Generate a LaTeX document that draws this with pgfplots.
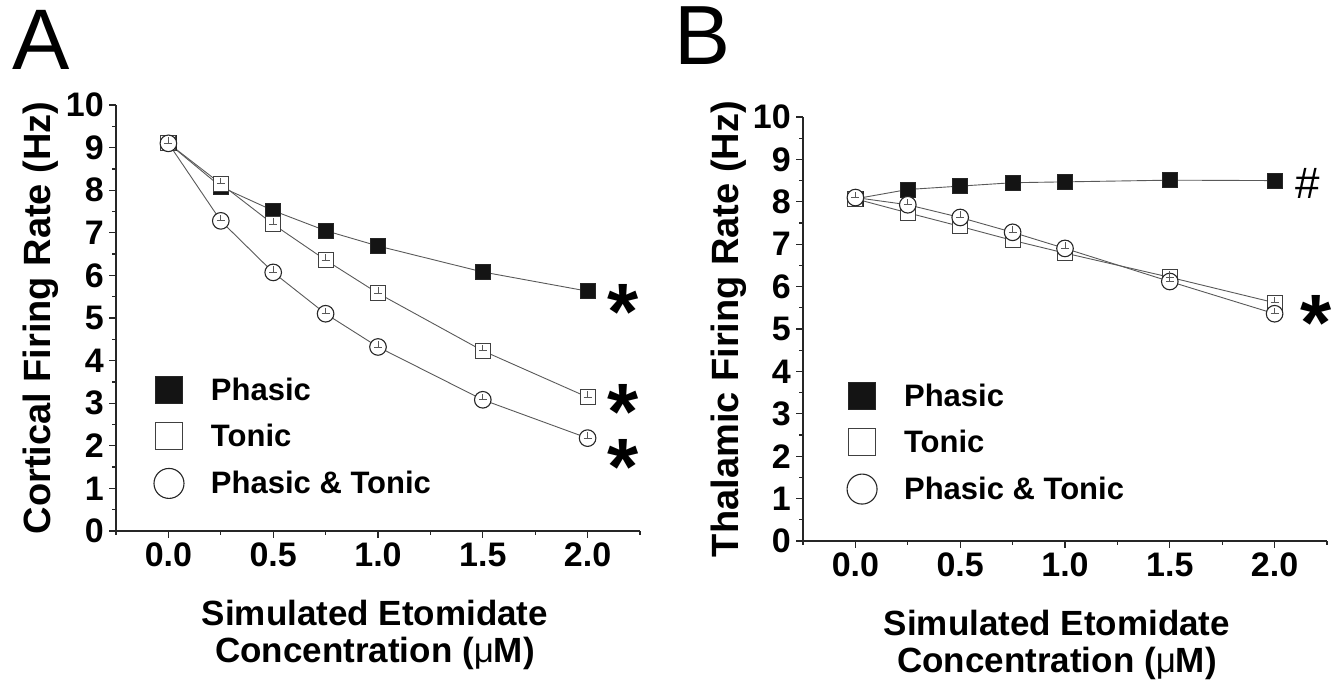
\documentclass[border=0pt]{standalone}
\usepackage{fontspec}
\setmainfont{Liberation Sans}
\usepackage{pgfplots}
\pgfplotsset{compat=1.18}

\definecolor{lgray}{gray}{0.35}
\definecolor{mgray}{gray}{0.25}

% error-bar glyph: cap at the data point, bar going up (as drawn in the reference)
\pgfdeclareplotmark{perpup}{%
  \pgfpathmoveto{\pgfqpoint{-4pt}{0pt}}\pgfpathlineto{\pgfqpoint{4pt}{0pt}}%
  \pgfpathmoveto{\pgfqpoint{0pt}{0pt}}\pgfpathlineto{\pgfqpoint{0pt}{6pt}}%
  \pgfusepathqstroke}

\pgfplotsset{
  myaxis/.style={
    scale only axis, width=524pt,
    xmin=-0.25, xmax=2.25, ymin=0, ymax=10,
    axis lines=left,
    axis line style={-, line width=1.4pt, black!85},
    xtick={0,0.5,1,1.5,2},
    minor xtick={-0.25,0.25,0.75,1.25,1.75,2.25},
    ytick={0,1,2,3,4,5,6,7,8,9,10},
    minor ytick={0.5,1.5,2.5,3.5,4.5,5.5,6.5,7.5,8.5,9.5},
    tick align=outside,
    major tick length=7pt, minor tick length=4pt,
    tick style={line width=1.3pt, black!85},
    tick label style={font=\fontsize{34}{34}\selectfont\bfseries, inner sep=0pt},
    /pgf/number format/assume math mode=true,
    xticklabel style={/pgf/number format/fixed, /pgf/number format/fixed zerofill, /pgf/number format/precision=1, yshift=-5pt},
    yticklabel style={xshift=-5pt},
    clip=false,
    legend style={draw=none, fill=none, row sep=19pt, nodes={inner sep=0pt},
      font=\fontsize{31}{31}\selectfont\bfseries},
    legend cell align=left,
    legend image code/.code={\draw[##1] plot coordinates {(0pt,0pt)}; \path[draw=none, fill=none] (-13.5pt,0pt) -- (42pt,0pt);},
  },
  lineP/.style={line width=0.9pt, color=lgray, mark=square*, mark size=7.5pt, mark options={fill=black!92, draw=black!85, line width=0.8pt}},
  lineT/.style={line width=0.9pt, color=lgray, mark=square*, mark size=7.5pt, mark options={fill=white, draw=mgray, line width=1.1pt}},
  linePT/.style={line width=0.9pt, color=lgray, mark=*, mark size=8.3pt, mark options={fill=white, draw=black!85, line width=1.1pt}},
  ebar/.style={forget plot, only marks, mark=perpup, mark options={draw=lgray, line width=0.9pt}},
}
\tikzset{star/.style={font=\fontsize{80}{80}\selectfont\bfseries, anchor=base, yshift=-44pt, inner sep=0pt, text height=0.72em, text depth=-0.38em}}

\begin{document}
\begin{tikzpicture}[x=1pt,y=1pt]
\useasboundingbox (0,0) rectangle (1342,685);

% ---------------- Panel A ----------------
\begin{axis}[myaxis, at={(116pt,154pt)}, anchor=south west, height=426pt,
  legend style={at={(axis cs:-0.084,3.68)}, anchor=north west}]
\addlegendimage{only marks, mark=square*, mark size=13.5pt, mark options={fill=black!92, draw=black!85, line width=0.8pt}}
\addlegendentry{Phasic}
\addlegendimage{only marks, mark=square*, mark size=13.5pt, mark options={fill=white, draw=mgray, line width=1.1pt}}
\addlegendentry{Tonic}
\addlegendimage{only marks, mark=*, mark size=15pt, mark options={fill=white, draw=black!85, line width=1.1pt}}
\addlegendentry{Phasic \& Tonic}

\addplot[lineP, forget plot] coordinates {(0,9.10) (0.25,8.08) (0.5,7.52) (0.75,7.05) (1,6.69) (1.5,6.08) (2,5.63)};
\addplot[lineT, forget plot] coordinates {(0,9.10) (0.25,8.15) (0.5,7.20) (0.75,6.36) (1,5.58) (1.5,4.23) (2,3.14)};
\addplot[linePT, forget plot] coordinates {(0,9.10) (0.25,7.28) (0.5,6.07) (0.75,5.10) (1,4.32) (1.5,3.08) (2,2.18)};
% error bars
\addplot[ebar] coordinates {(0.25,8.15) (0.5,7.20) (0.75,6.36) (1,5.58) (1.5,4.23) (2,3.14)};
\addplot[ebar] coordinates {(0,9.10) (0.25,7.28) (0.5,6.07) (0.75,5.10) (1,4.32) (1.5,3.08) (2,2.18)};

\node[star] at (axis cs:2.17,5.52) {*};
\node[star] at (axis cs:2.17,3.19) {*};
\node[star] at (axis cs:2.17,1.88) {*};
\end{axis}

% ---------------- Panel B ----------------
\begin{axis}[myaxis, at={(803pt,144pt)}, anchor=south west, height=424pt,
  legend style={at={(axis cs:-0.055,3.80)}, anchor=north west}]
\addlegendimage{only marks, mark=square*, mark size=13.5pt, mark options={fill=black!92, draw=black!85, line width=0.8pt}}
\addlegendentry{Phasic}
\addlegendimage{only marks, mark=square*, mark size=13.5pt, mark options={fill=white, draw=mgray, line width=1.1pt}}
\addlegendentry{Tonic}
\addlegendimage{only marks, mark=*, mark size=15pt, mark options={fill=white, draw=black!85, line width=1.1pt}}
\addlegendentry{Phasic \& Tonic}

\addplot[lineP, forget plot] coordinates {(0,8.07) (0.25,8.29) (0.5,8.37) (0.75,8.45) (1,8.47) (1.5,8.51) (2,8.50)};
\addplot[lineT, forget plot] coordinates {(0,8.07) (0.25,7.74) (0.5,7.42) (0.75,7.09) (1,6.79) (1.5,6.22) (2,5.62)};
\addplot[linePT, forget plot] coordinates {(0,8.10) (0.25,7.93) (0.5,7.63) (0.75,7.28) (1,6.90) (1.5,6.12) (2,5.36)};
\addplot[ebar] coordinates {(1.5,6.22) (2,5.62)};
\addplot[ebar] coordinates {(0,8.10) (0.25,7.93) (0.5,7.63) (0.75,7.28) (1,6.90) (1.5,6.12) (2,5.36)};

\node[font=\fontsize{44}{44}\selectfont, anchor=base, yshift=-15pt] at (axis cs:2.16,8.42) {\#};
\node[star] at (axis cs:2.20,5.52) {*};
\end{axis}

% ---------------- labels ----------------
\node[font=\fontsize{86}{86}\selectfont, anchor=base west, inner sep=0pt] at (12,615) {A};
\node[font=\fontsize{84}{84}\selectfont, anchor=base west, inner sep=0pt] at (674,620) {B};

\node[font=\fontsize{38}{38}\selectfont\bfseries, rotate=90, anchor=base, inner sep=0pt] at (50,367) {Cortical Firing Rate (Hz)};
\node[font=\fontsize{38}{38}\selectfont\bfseries, rotate=90, anchor=base, inner sep=0pt] at (738,356) {Thalamic Firing Rate (Hz)};

\node[font=\fontsize{35}{35}\selectfont\bfseries, anchor=base, inner sep=0pt] at (375,59) {Simulated Etomidate};
\node[font=\fontsize{35}{35}\selectfont\bfseries, anchor=base, inner sep=0pt] at (375,22) {Concentration ({\mdseries μ}M)};
\node[font=\fontsize{35}{35}\selectfont\bfseries, anchor=base, inner sep=0pt] at (1057,49) {Simulated Etomidate};
\node[font=\fontsize{35}{35}\selectfont\bfseries, anchor=base, inner sep=0pt] at (1057,12) {Concentration ({\mdseries μ}M)};
\end{tikzpicture}
\end{document}
